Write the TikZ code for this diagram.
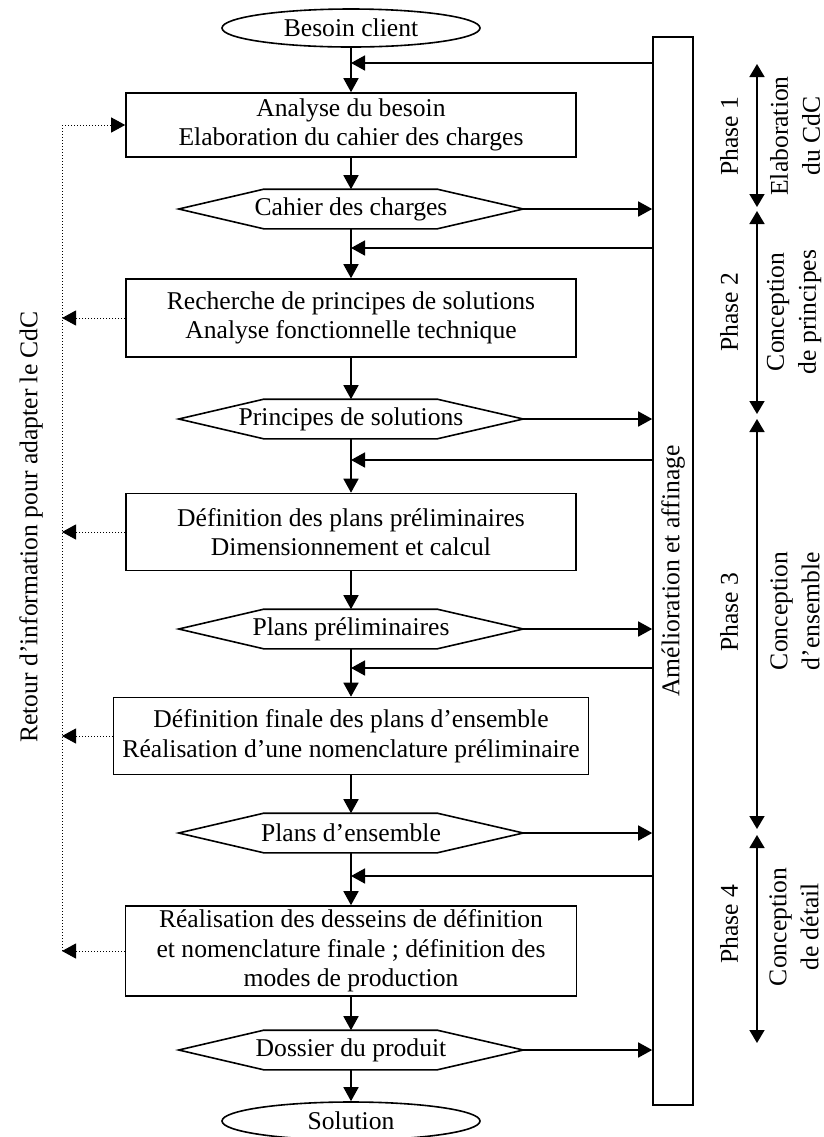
\documentclass[tikz,border=0pt]{standalone}
\usepackage{fontspec}
\setmainfont{Liberation Serif}
\usetikzlibrary{arrows.meta,shapes.geometric}

\tikzset{
	bloc/.style={draw,align=center,inner sep=0pt,minimum width=225pt},
	hexa/.style={inner sep=0pt,minimum width=171.5pt,minimum height=19pt},
	terminal/.style={draw,ellipse,inner sep=0pt,minimum width=129pt,minimum height=19pt},
	fleche/.style={-{Triangle[length=7pt,width=7.5pt]}},
	retour/.style={densely dotted,line width=0.5pt,-{Triangle[length=7pt,width=7.5pt]}},
	phase/.style={{Triangle[length=6.5pt,width=7.5pt]}-{Triangle[length=6.5pt,width=7.5pt]}},
	vertical/.style={rotate=90,align=center,font=\fontsize{12.8}{16}\selectfont}
}

\begin{document}
\begin{tikzpicture}[x=0.5pt,y=-0.5pt,line width=0.8pt,every node/.append style={font=\fontsize{12.8}{14.8}\selectfont}]
		\useasboundingbox (0,0) rectangle (824,1137);
		% colonne principale
		\node[terminal] (besoin) at (351,28) {Besoin client};
		\node[bloc,minimum height=32pt] (analyse) at (351,125) {Analyse du besoin\\Elaboration du cahier des charges};
		\node[hexa] (cdc) at (351,209) {Cahier des charges};
		\node[bloc,minimum height=39pt] (recherche) at (351,318) {Recherche de principes de solutions\\Analyse fonctionnelle technique};
		\node[hexa] (principes) at (351,419) {Principes de solutions};
		\node[bloc,minimum height=38.5pt] (preliminaires) at (351,532) {Définition des plans préliminaires\\Dimensionnement et calcul};
		\node[hexa] (plansprel) at (351,629) {Plans préliminaires};
		\node[bloc,minimum width=237.5pt,minimum height=38.5pt] (finale) at (351,736) {Définition finale des plans d’ensemble\\Réalisation d’une nomenclature préliminaire};
		\node[hexa] (plansens) at (351,833) {Plans d’ensemble};
		\node[bloc,minimum width=225.5pt,minimum height=45pt] (detail) at (351,951) {Réalisation des desseins de définition\\et nomenclature finale ; définition des\\modes de production};
		\node[hexa] (dossier) at (351,1050) {Dossier du produit};
		\node[terminal] (solution) at (351,1121) {Solution};
		\foreach \h in {cdc,principes,plansprel,plansens,dossier}
			\draw (\h.west) -- ([xshift=42.5pt]\h.north west) -- ([xshift=-43pt]\h.north east) -- (\h.east) -- ([xshift=-43pt]\h.south east) -- ([xshift=42.5pt]\h.south west) -- cycle;
		\draw[fleche] (besoin.south) -- (analyse.north);
		\draw[fleche] (analyse.south) -- (cdc.north);
		\draw[fleche] (cdc.south) -- (recherche.north);
		\draw[fleche] (recherche.south) -- (principes.north);
		\draw[fleche] (principes.south) -- (preliminaires.north);
		\draw[fleche] (preliminaires.south) -- (plansprel.north);
		\draw[fleche] (plansprel.south) -- (finale.north);
		\draw[fleche] (finale.south) -- (plansens.north);
		\draw[fleche] (plansens.south) -- (detail.north);
		\draw[fleche] (detail.south) -- (dossier.north);
		\draw[fleche] (dossier.south) -- (solution.north);
		% barre amelioration
		\node[draw,inner sep=0pt,minimum width=20pt,minimum height=534pt] (barre) at (673,571) {};
		\node[rotate=90] at (barre.center) {Amélioration et affinage};
		\foreach \y [count=\i] in {63,248,460,668,876} {
			\coordinate (a\i) at (653,\y);
			\coordinate (b\i) at (351,\y);
			\draw[fleche] (a\i) -- (b\i);
		}
		\foreach \h in {cdc,principes,plansprel,plansens,dossier}
			\draw[fleche] (\h.east) -- (\h.east -| barre.west);
		% retour d'information
		\coordinate (r0) at (62,125);
		\coordinate (r1) at (62,951);
		\draw[densely dotted,line width=0.5pt] (r0) -- (r1);
		\draw[retour] (r0) -- (analyse.west);
		\foreach \b in {recherche,preliminaires,finale,detail}
			\draw[retour] (\b.west) -- (\b.west -| r0);
		\node[rotate=90] at (31,527) {Retour d’information pour adapter le CdC};
		% phases
		\foreach \a/\b in {64/207,211/414,419/829,835/1043}
			\draw[phase] (757,\a) -- (757,\b);
		\node[vertical] at (729,136) {Phase 1};
		\node[vertical] at (795,136) {Elaboration\\du CdC};
		\node[vertical] at (729,312) {Phase 2};
		\node[vertical] at (794,312) {Conception\\de principes};
		\node[vertical] at (729,612) {Phase 3};
		\node[vertical] at (795,611) {Conception\\d’ensemble};
		\node[vertical] at (729,924) {Phase 4};
		\node[vertical] at (794,927) {Conception\\de détail};
	\end{tikzpicture}
\end{document}
